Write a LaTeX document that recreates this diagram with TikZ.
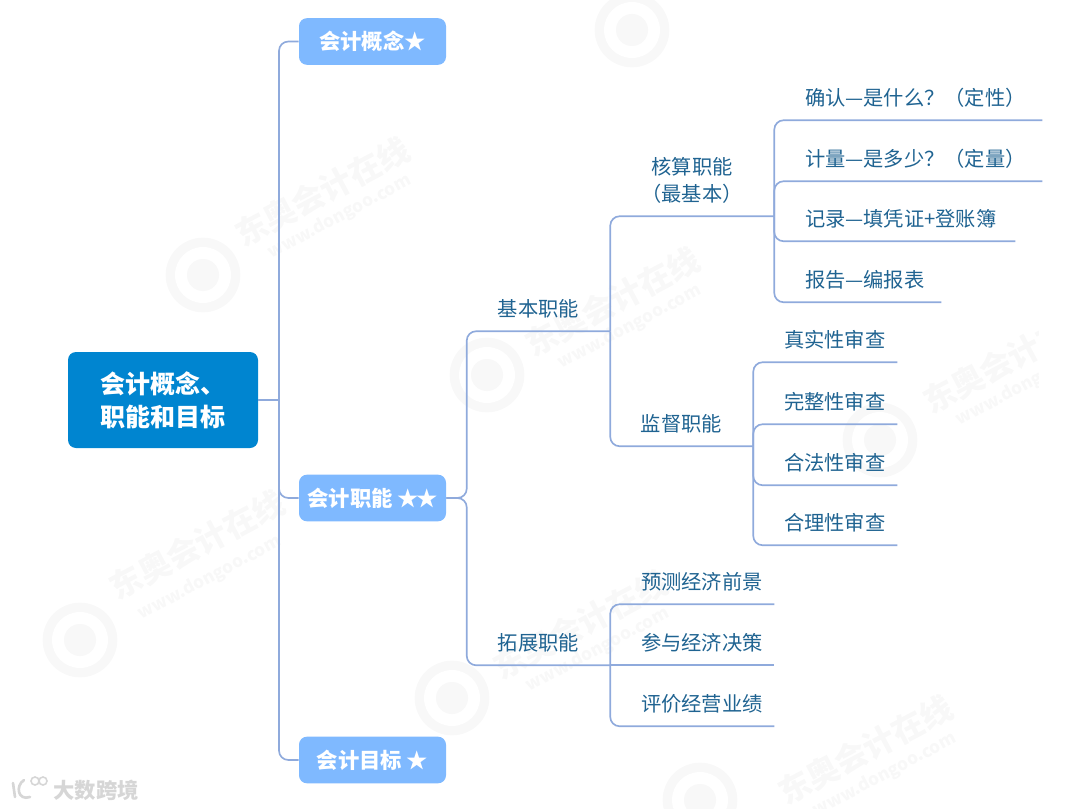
\documentclass[tikz,border=0pt]{standalone}
\usepackage{fontspec}
\setmainfont{Noto Sans CJK SC}
\definecolor{linec}{HTML}{8FAADC}
\definecolor{textc}{HTML}{1F6391}
\definecolor{rootc}{HTML}{0085D0}
\definecolor{branchc}{HTML}{7FB9FF}
\definecolor{wmc}{HTML}{F8F8F8}
\definecolor{corner}{HTML}{D6D6D6}
\tikzset{
  x=0.75pt,y=-0.75pt,
  rootbox/.style={fill=rootc,text=white,rounded corners=6pt,inner sep=0pt,align=left,
    minimum width=142.5pt,minimum height=72pt,font=\fontsize{18.75}{24.75}\selectfont\bfseries},
  branchbox/.style={fill=branchc,text=white,rounded corners=6pt,inner sep=0pt,
    minimum width=110.25pt,minimum height=35pt,font=\fontsize{16}{20}\selectfont\bfseries},
  topic/.style={text=textc,inner sep=0pt,align=center,font=\fontsize{15.2}{20.25}\selectfont,
    minimum width=#1*0.75pt,minimum height=33pt},
  leaf/.style={text=textc,inner sep=0pt,align=left,font=\fontsize{15.2}{20.25}\selectfont,
    text width=#1*0.75pt,minimum height=33pt},
  tall/.style={minimum height=54pt},
  conn/.style={draw=linec,line width=1.25pt,rounded corners=7pt},
  wmtext/.style={text=wmc,inner sep=0pt,rotate=28,font=\fontsize{24}{24}\selectfont\bfseries},
  wmurl/.style={text=wmc,inner sep=0pt,rotate=28,font=\fontsize{13}{13}\selectfont\bfseries},
}
\newcommand{\lead}{\hspace*{23.25pt}}
\begin{document}
\begin{tikzpicture}
\useasboundingbox (0,0) rectangle (1080,809);
% faint watermarks
\begin{scope}
\clip (0,0) rectangle (1038,809);
\foreach \lx/\ly in {203/275,487/375,452/698,632/30,880/440,80/640,700/800}{
  \fill[wmc] (\lx,\ly) circle[radius=28pt];
  \fill[white] (\lx,\ly) circle[radius=21pt];
  \fill[wmc] (\lx,\ly) circle[radius=12pt];
}
\foreach \n/\tx/\ty/\ux/\uy in {
  a/322/192/340/217,
  b/612/302/630/327,
  c/580/625/598/650,
  e/1010/359/1028/384,
  f/197/545/210/578,
  g/865/750/885/775}{
  \node[wmtext] (wt\n) at (\tx,\ty) {东奥会计在线};
  \node[wmurl] (wu\n) at (\ux,\uy) {www.dongoo.com};
}
\end{scope}
% corner mark
\draw[corner,line width=2pt,line cap=round] (13,783) -- (15,797);
\draw[corner,line width=2pt,line cap=round] (30,797) .. controls (18,801) and (15,786) .. (24,780);
\draw[corner,line width=1.2pt] (35,781) circle[radius=4];
\draw[corner,line width=1.2pt] (43,781) circle[radius=4];
\node[text=corner,inner sep=0pt,font=\fontsize{16}{16}\selectfont\bfseries] (mark) at (96,790) {大数跨境};
% nodes
\node[rootbox] (root) at (163,400) {会计概念、\\职能和目标};
\node[branchbox] (gn) at (372.5,41.5) {会计概念★};
\node[branchbox] (zn) at (372.5,498) {会计职能 ★\kern-2pt★};
\node[branchbox] (mb) at (372.5,760) {会计目标 ★};
\coordinate (j1) at (279,400);
\node[topic=143] (jb) at (538.5,309) {基本职能};
\node[topic=143] (tz) at (538.5,643) {拓展职能};
\node[topic=164,tall] (hs) at (692,180) {核算职能\\（最基本）};
\node[topic=143] (jd) at (681.5,424) {监督职能};
\node[leaf=268] (l1) at (908,98) {\lead 确认—是什么？（定性）};
\node[leaf=268] (l2) at (908,159) {\lead 计量—是多少？（定量）};
\node[leaf=241] (l3) at (894.5,219) {\lead 记录—填凭证+登账簿};
\node[leaf=167] (l4) at (857.5,280) {\lead 报告—编报表};
\node[leaf=144] (m1) at (825,340) {\lead 真实性审查};
\node[leaf=144] (m2) at (825,402) {\lead 完整性审查};
\node[leaf=144] (m3) at (825,463) {\lead 合法性审查};
\node[leaf=144] (m4) at (825,523) {\lead 合理性审查};
\node[leaf=164] (p1) at (692,582) {\lead 预测经济前景};
\node[leaf=164] (p2) at (692,643) {\lead 参与经济决策};
\node[leaf=164] (p3) at (692,704) {\lead 评价经营业绩};
% connectors
\draw[conn] (root.east) -- (j1);
\draw[conn] (j1) |- (gn.west);
\draw[conn] (j1) |- (zn.west);
\draw[conn] (j1) |- (mb.west);
\draw[conn] (zn.east) -| (jb.south west) -- (jb.south east);
\draw[conn] (zn.east) -| (tz.south west) -- (tz.south east);
\draw[conn] (jb.south east) |- (hs.south east);
\draw[conn] (jb.south east) |- (jd.south east);
\draw[conn] (tz.south east) -- (p2.south east);
\draw[conn] (tz.south east) |- (p1.south east);
\draw[conn] (tz.south east) |- (p3.south east);
\draw[conn] (hs.south east) |- (l1.south east);
\draw[conn] (hs.south east) |- (l2.south east);
\draw[conn] (hs.south east) |- (l3.south east);
\draw[conn] (hs.south east) |- (l4.south east);
\draw[conn] (jd.south east) |- (m1.south east);
\draw[conn] (jd.south east) |- (m2.south east);
\draw[conn] (jd.south east) |- (m3.south east);
\draw[conn] (jd.south east) |- (m4.south east);
\end{tikzpicture}
\end{document}
